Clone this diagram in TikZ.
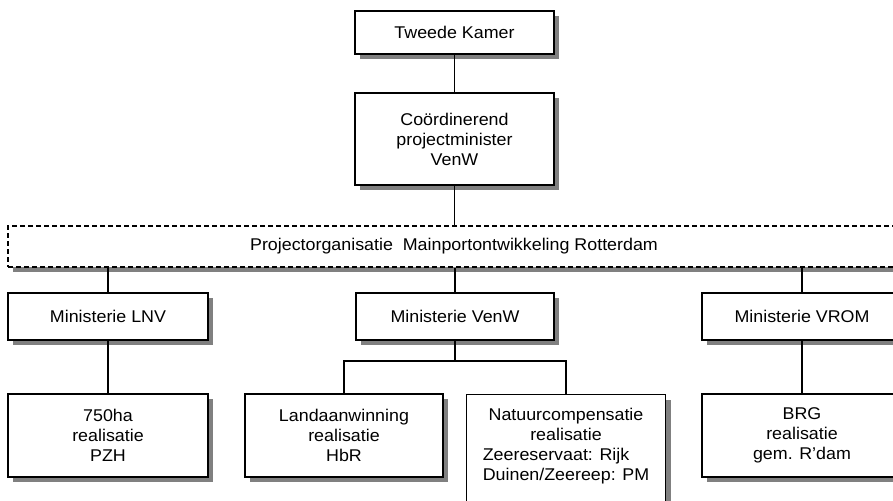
\documentclass[tikz,border=0pt]{standalone}
\usepackage{fontspec}
\setmainfont[FakeStretch=1.05]{Liberation Sans}
\usetikzlibrary{shadows}

\newlength\natwd

\tikzset{
	orgbox/.style={draw, line width=1.2pt, fill=white, align=center, inner sep=0pt,
		minimum width=199pt, font=\fontsize{17}{20}\selectfont,
		drop shadow={shadow xshift=5pt, shadow yshift=-5pt, fill=gray, opacity=1}},
	orgline/.style={line width=1.2pt}
}

\begin{document}
\begin{tikzpicture}[x=1pt, y=-1pt]
			\useasboundingbox (0,0) rectangle (893,500);

			\node[orgbox, minimum height=43pt] (kamer) at (454.5,32.5) {Tweede Kamer};
			\node[orgbox, minimum height=92pt] (coord) at (454.5,139) {Co\"ordinerend\\projectminister\\VenW};

			\node[orgbox, dashed, dash pattern=on 5pt off 3pt, minimum width=892pt, minimum height=41pt] (proj) at (454,246.5) {Projectorganisatie\ \ Mainportontwikkeling Rotterdam};

			\node[orgbox, minimum width=200pt, minimum height=47pt] (lnv) at (108,316.5) {Ministerie LNV};
			\node[orgbox, minimum width=198pt, minimum height=47pt] (venw) at (455,316.5) {Ministerie VenW};
			\node[orgbox, minimum width=200pt, minimum height=47pt] (vrom) at (802,316.5) {Ministerie VROM};

			\node[orgbox, minimum width=200pt, minimum height=83pt] (pzh) at (108,435.5) {750ha\\realisatie\\PZH};
			\node[orgbox, minimum width=198pt, minimum height=83pt] (hbr) at (344,435.5) {Landaanwinning\\realisatie\\HbR};
			\node[orgbox, anchor=north, inner ysep=14pt] (natuur) at (566,394) {Natuurcompensatie\\realisatie\\\settowidth{\natwd}{Duinen/Zeereep: PM}\makebox[\natwd][l]{Zeereservaat: Rijk}\\Duinen/Zeereep: PM\\\mbox{}};
			\node[orgbox, minimum width=200pt, minimum height=83pt] (brg) at (802,435.5) {BRG\\realisatie\\gem. R'dam};

			\coordinate (split) at (455,361);

			\draw[orgline] (kamer) -- (coord);
			\draw[orgline] (coord.south) -- (coord.south |- proj.north);
			\draw[orgline] (lnv.north) -- (lnv.north |- proj.south);
			\draw[orgline] (venw.north) -- (venw.north |- proj.south);
			\draw[orgline] (vrom.north) -- (vrom.north |- proj.south);
			\draw[orgline] (lnv) -- (pzh);
			\draw[orgline] (vrom) -- (brg);
			\draw[orgline] (venw.south) -- (split);
			\draw[orgline] (hbr.north) |- (split) -| (natuur.north);
		\end{tikzpicture}
\end{document}
